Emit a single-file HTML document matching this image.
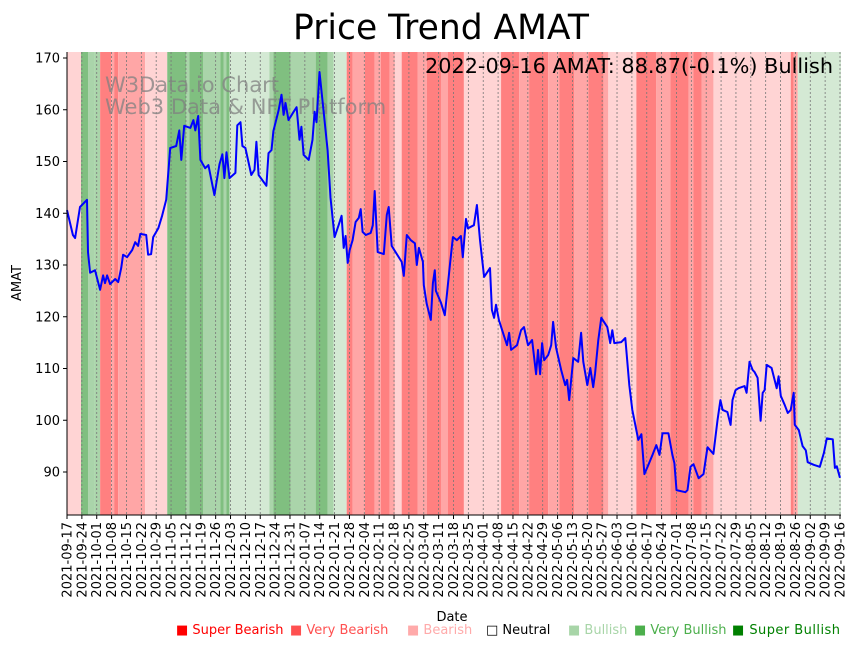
<!DOCTYPE html>
<html><head><meta charset="utf-8"><style>
body{margin:0;background:#fff;}
svg{display:block;font-family:"DejaVu Sans","Liberation Sans",sans-serif;}
</style></head><body>
<svg id="chart" width="857" height="646" viewBox="0 0 857 646" xmlns="http://www.w3.org/2000/svg">
<g id="bands"></g>
<g id="grid"></g>
<text x="105" y="92" font-size="21" fill="#808080" fill-opacity="0.75">W3Data.io Chart</text>
<text x="105" y="114" font-size="21" fill="#808080" fill-opacity="0.75">Web3 Data &amp; NFT Platform</text>
<path id="priceLine" fill="none" stroke="#0000ff" stroke-width="2" stroke-linejoin="round"/>
<g id="axes"></g>
<text x="441" y="39" font-size="34.5" text-anchor="middle" fill="#000">Price Trend AMAT</text>
<text x="833" y="73" font-size="20.8" text-anchor="end" fill="#000" textLength="408">2022-09-16 AMAT: 88.87(-0.1%) Bullish</text>
<text x="452" y="621" font-size="13" text-anchor="middle">Date</text>
<text transform="translate(21,283) rotate(-90)" font-size="13" text-anchor="middle">AMAT</text>
<g id="legend" font-size="13">
<text x="176" y="634" fill="#ff0000">■ Super Bearish</text>
<text x="290" y="634" fill="#ff5050">■ Very Bearish</text>
<text x="407" y="634" fill="#ffaaaa">■ Bearish</text>
<text x="486" y="634" fill="#000">□ Neutral</text>
<text x="568" y="634" fill="#a8d5a8">■ Bullish</text>
<text x="634" y="634" fill="#4caf4c">■ Very Bullish</text>
<text x="732" y="634" fill="#008000" textLength="108">■ Super Bullish</text>
</g>
</svg>
<script>
const startDate = "2021-09-17";
const totalDays = 364;
const yTicks = [90,100,110,120,130,140,150,160,170];
const priceDays = [0,2.8,3.8,6.1,9.4,9.9,10.9,13.2,15.6,17.0,17.9,18.9,20.3,22.7,24.1,25.5,26.4,28.3,30.7,32.1,33.5,34.5,37.3,38.2,39.6,40.6,43.0,44.8,46.7,48.6,51.4,52.9,53.8,55.2,58.1,59.5,60.4,61.8,62.8,65.1,66.6,69.4,71.8,73.2,74.1,75.1,76.5,79.3,80.2,81.7,82.6,84.0,86.8,88.3,89.2,90.2,93.9,94.9,96.3,97.2,99.6,101.0,102.0,102.9,104.3,106.7,108.1,109.5,110.4,111.4,113.8,115.6,116.6,117.5,118.9,120.8,122.7,124.1,126.0,127.9,129.3,130.3,131.2,132.2,133.1,134.5,135.9,137.4,138.3,139.2,140.7,143.0,144.0,144.9,146.3,149.2,150.6,151.5,152.9,157.6,158.6,160.0,161.9,163.8,164.7,165.7,167.6,168.0,169.4,171.3,172.3,173.2,173.7,176.1,177.9,180.3,181.7,183.6,185.5,186.4,187.9,188.8,191.6,193.0,194.5,196.4,199.2,200.1,201.1,202.0,203.4,205.3,207.2,208.2,209.1,211.9,213.8,215.2,217.1,219.0,220.9,221.8,222.8,223.7,224.7,226.6,228.0,228.9,230.3,232.7,234.6,235.5,236.5,238.4,240.7,242.1,243.1,245.0,246.4,247.8,248.7,250.2,251.6,254.4,255.8,256.8,257.7,261.0,262.9,264.8,266.2,269.0,270.5,271.9,273.8,275.7,277.5,279.0,280.4,283.2,285.1,286.0,287.0,291.2,292.2,293.6,295.0,297.4,299.7,301.6,304.4,306.3,307.7,308.7,311.0,312.5,313.4,314.8,316.2,319.1,320.0,321.4,322.9,323.8,325.2,326.6,327.6,328.5,329.5,331.8,334.2,335.1,336.1,338.0,339.4,340.8,342.2,342.7,344.6,346.4,347.9,348.8,351.6,354.5,356.4,357.8,360.6,361.6,362.5,363.9,364];
const priceValues = [140.6,135.8,135.2,141.2,142.6,132.5,128.5,129,125.2,128,126.5,128,126.3,127.3,126.7,129.4,132,131.5,132.9,134.4,133.7,136,135.8,132,132.1,135.4,137.1,139.5,142.6,152.6,153,156,150.3,156.9,156.5,158,156,158.8,150.3,148.7,149.3,143.5,149.5,151.4,146.8,151.8,146.8,147.8,157,157.6,153,152.6,147.4,148.4,153.8,147.4,145.3,151.6,152.2,155.9,159.8,162.9,159,161.3,158,159.6,160.5,154.2,156.7,151.3,150.3,154.2,159.6,157.6,167.3,159.9,152.2,143,135.4,137.7,139.5,133.3,135.6,130.4,132.9,134.8,138.3,139.1,140.8,136.4,135.8,136.2,137.7,144.3,132.5,132.1,139.7,141.2,133.7,130.6,127.9,135.8,134.8,134.2,130,133.3,130.6,126.1,122.5,119.4,126.5,129,125,122.7,120.3,130,135.4,134.8,135.6,131.5,138.9,137.1,137.7,141.6,134.8,127.7,129.4,121.3,119.8,122.3,119.4,116.9,114.5,116.9,113.6,114.5,117.4,118,114.5,115.5,108.9,113.6,108.9,114.9,111.6,112.6,114.5,119,114,109.7,106.8,107.8,103.9,112,111.3,116.9,111.3,106.8,110.1,106.4,109.1,115.5,119.8,118,114.9,117.4,114.9,115.1,115.9,106.8,102,96.2,97.3,89.6,91.4,93.3,95.2,93.3,97.5,97.5,93.3,91.7,86.5,86.1,86.5,91,91.5,88.8,89.6,94.8,93.5,100,103.9,102,101.6,99.1,103.9,105.8,106.2,106.6,105.3,111.3,109.7,109.3,108.2,99.9,105.3,105.8,110.7,110.1,106.2,108.5,104.7,102.9,101.4,102,105.3,99.1,98.1,95,94.2,91.9,91.4,91,93.7,96.5,96.3,90.8,91.1,89,88.87];
const bandStarts = [0,6.6,9.9,12.9,15.6,20.8,22.2,24.1,36.8,47.2,56.2,57.6,64.2,72.2,73.7,75.1,76.5,95.3,97.2,105.3,117.1,122.7,125.6,131.7,134.5,140.2,144.9,147.8,152.0,154.4,157.6,165.2,169.4,176.1,179.4,186.9,204.4,212.9,217.6,226.6,231.8,238.9,245.5,252.6,254.9,268.1,277.5,284.2,292.7,295.0,298.8,304.4,340.8,342.2,344.1];
const bandEnds = [6.6,9.9,12.9,15.6,20.8,22.2,24.1,36.8,47.2,56.2,57.6,64.2,72.2,73.7,75.1,76.5,95.3,97.2,105.3,117.1,122.7,125.6,131.7,134.5,140.2,144.9,147.8,152.0,154.4,157.6,165.2,169.4,176.1,179.4,186.9,204.4,212.9,217.6,226.6,231.8,238.9,245.5,252.6,254.9,268.1,277.5,284.2,292.7,295.0,298.8,304.4,340.8,342.2,344.1,365];
const bandLevels = [-1,3,2,2,-3,-2,-3,-2,-1,3,2,3,2,3,2,3,1,2,3,2,3,2,1,-3,-2,-3,-2,-3,-2,-1,-3,-2,-3,-2,-3,-1,-3,-2,-3,-2,-3,-2,-3,-2,-1,-3,-2,-3,-2,-3,-2,-1,-3,-2,1];

const NS="http://www.w3.org/2000/svg";
const L=67,R=841,T=52,B=515;
const xs=d=>L+d*(840-L)/totalDays;
const ys=v=>472-(v-90)*(472-58)/80;
const colors={"-3":"#ff8080","-2":"#ffa6a6","-1":"#ffd4d4","1":"#d4e9d4","2":"#aad4aa","3":"#80bf80"};
function mk(tag,attrs,parent){const e=document.createElementNS(NS,tag);for(const k in attrs)e.setAttribute(k,attrs[k]);parent.appendChild(e);return e;}
const bands=document.getElementById('bands');
for(let i=0;i<bandStarts.length;i++){
  const x1=Math.max(L,xs(bandStarts[i])),x2=Math.min(R,xs(bandEnds[i]));
  const r=mk('rect',{x:x1,y:T,width:Math.max(0,x2-x1),height:B-T,fill:colors[bandLevels[i]]},bands);
  
  
}
const grid=document.getElementById('grid'),axes=document.getElementById('axes');
const sd=new Date(startDate+"T00:00:00Z");
for(let d=0;d<=totalDays;d+=7){
  const x=xs(d);
  const g=mk('line',{x1:x,x2:x,y1:T,y2:B,stroke:'#777',"stroke-width":0.8,"stroke-dasharray":"2,2"},grid);
  
  
  mk('line',{x1:x,x2:x,y1:B,y2:B+4,stroke:'#000'},axes);
  const dt=new Date(sd.getTime()+d*86400000).toISOString().slice(0,10);
  const t=mk('text',{transform:`translate(${x+4.5},${B+7}) rotate(-90)`,"font-size":13,"text-anchor":"end"},axes);
  t.textContent=dt;
  
  
}
yTicks.forEach(v=>{
  const y=ys(v);
  mk('line',{x1:L-4,x2:L,y1:y,y2:y,stroke:'#000'},axes);
  const t=mk('text',{x:L-7,y:y+4.5,"font-size":13,"text-anchor":"end"},axes);
  t.textContent=v;
  
  
});
const ya=mk('line',{x1:L,x2:L,y1:T,y2:B,stroke:'#000'},axes);


const xa=mk('line',{x1:L,x2:R,y1:B,y2:B,stroke:'#000'},axes);


document.getElementById('priceLine').setAttribute('d',priceDays.map((d,i)=>(i?'L':'M')+xs(d).toFixed(1)+','+ys(priceValues[i]).toFixed(1)).join(''));
</script>
</body></html>
